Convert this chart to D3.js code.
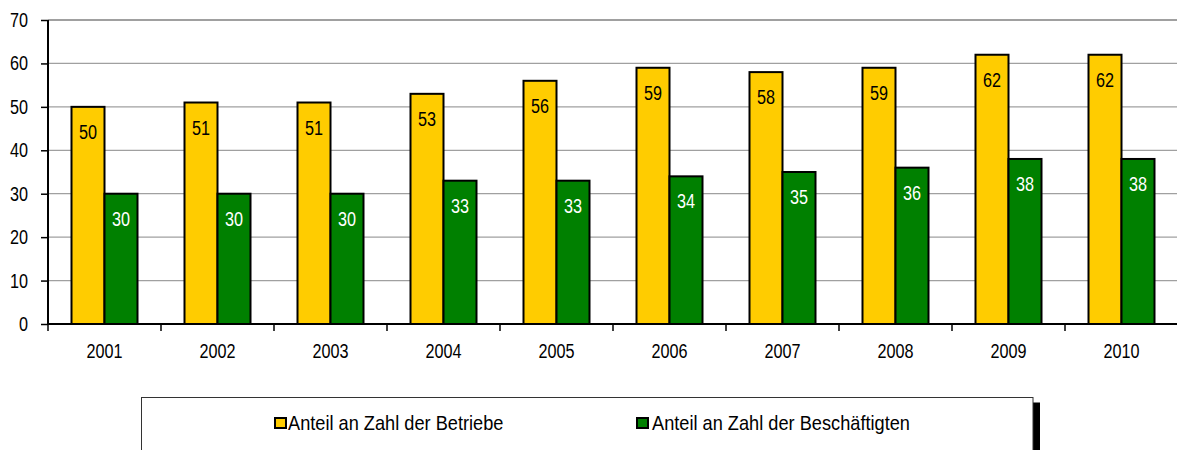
<!DOCTYPE html>
<html><head><meta charset="utf-8">
<script src="https://cdn.jsdelivr.net/npm/d3@7"></script>
<style>body{margin:0;background:#fff}svg{display:block;font-family:"Liberation Sans",Arial,sans-serif}</style>
</head><body><svg id="c" width="1177" height="450"></svg>
<script>
const years = ["2001","2002","2003","2004","2005","2006","2007","2008","2009","2010"];
const betriebe = [50,51,51,53,56,59,58,59,62,62];
const beschaeftigte = [30,30,30,33,33,34,35,36,38,38];
const yTicks = [0,10,20,30,40,50,60,70];
const seriesNames = ["Anteil an Zahl der Betriebe","Anteil an Zahl der Beschäftigten"];
const colors = ["#FFCC00","#008000"];

const svg = d3.select("#c");
const L = 48, R = 1178, T = 20, B = 324;
const SY = 1.3;
const x = d3.scaleBand().domain(years).range([L, R]).paddingInner(0).paddingOuter(0);
const y = d3.scaleLinear().domain([0,70]).range([B, T]);
const inner = d3.scaleBand().domain([0,1]).range([23.5, x.bandwidth()-23.5]);

// gridlines
svg.append("g").selectAll("line").data(yTicks.filter(d=>d>0)).join("line")
  .attr("x1", L).attr("x2", R).attr("y1", d=>y(d)).attr("y2", d=>y(d))
  .attr("stroke", "#a0a0a0").attr("stroke-width", d=>d===70?2:1.2);

const data = years.map((yr,i)=>({yr, vals:[betriebe[i], beschaeftigte[i]]}));
const g = svg.append("g").selectAll("g").data(data).join("g")
  .attr("transform", d=>`translate(${x(d.yr)},0)`);
g.selectAll("rect").data(d=>d.vals.map((v,k)=>({v,k}))).join("rect")
  .attr("x", d=>inner(d.k)).attr("width", inner.bandwidth())
  .attr("y", d=>y(d.v)).attr("height", d=>B - y(d.v))
  .attr("fill", d=>colors[d.k]).attr("stroke", "#000").attr("stroke-width", 2);
g.selectAll("text").data(d=>d.vals.map((v,k)=>({v,k}))).join("text")
  .attr("transform", d=>`translate(${inner(d.k)+inner.bandwidth()/2},${y(d.v)+32}) scale(1,${SY})`)
  .attr("text-anchor","middle").attr("font-size", 16.2)
  .attr("fill", d=>d.k===0?"#000":"#fff").text(d=>d.v);

// axes
const yAxis = svg.append("g").attr("transform", `translate(${L},0)`)
  .call(d3.axisLeft(y).tickValues(yTicks).tickSize(7));
yAxis.select(".domain").attr("stroke","#000").attr("stroke-width",2).attr("d", `M0,${T}V${B}`);
yAxis.selectAll(".tick line").attr("stroke","#000").attr("stroke-width",1.5);
yAxis.selectAll("text").attr("x",null).attr("dy",null).attr("y",null)
  .attr("transform", `translate(-20,6.5) scale(1,${SY})`)
  .attr("font-size",16.2).attr("fill","#000").attr("font-family","Liberation Sans, Arial, sans-serif");

const xAxis = svg.append("g").attr("transform", `translate(0,${B})`)
  .call(d3.axisBottom(x).tickSize(0));
xAxis.select(".domain").attr("stroke","#000").attr("stroke-width",2).attr("d", `M${L},0H${R}`);
xAxis.selectAll("text").attr("y",null).attr("dy",null)
  .attr("transform", `translate(0,33.5) scale(1,${SY})`)
  .attr("font-size",16.2).attr("fill","#000").attr("font-family","Liberation Sans, Arial, sans-serif");
svg.append("g").selectAll("line").data(d3.range(years.length+1)).join("line")
  .attr("x1", i=>L + i*x.step()).attr("x2", i=>L + i*x.step())
  .attr("y1", B).attr("y2", B+7).attr("stroke","#000").attr("stroke-width",1.5);

// legend
const lg = svg.append("g");
lg.append("rect").attr("x",1033).attr("y",402.5).attr("width",7).attr("height",50).attr("fill","#000");
lg.append("rect").attr("x",141.5).attr("y",397.5).attr("width",891.5).attr("height",60)
  .attr("fill","#fff").attr("stroke","#333").attr("stroke-width",1);
const lx = [275, 637];
const tx = [288, 652];
seriesNames.forEach((n,k)=>{
  lg.append("rect").attr("x",lx[k]).attr("y",418).attr("width",11).attr("height",10)
    .attr("fill",colors[k]).attr("stroke","#000").attr("stroke-width",2);
  lg.append("text").attr("transform",`translate(${tx[k]},430) scale(1,1.15)`)
    .attr("font-size",18.2).attr("fill","#000").text(n);
});
</script></body></html>
